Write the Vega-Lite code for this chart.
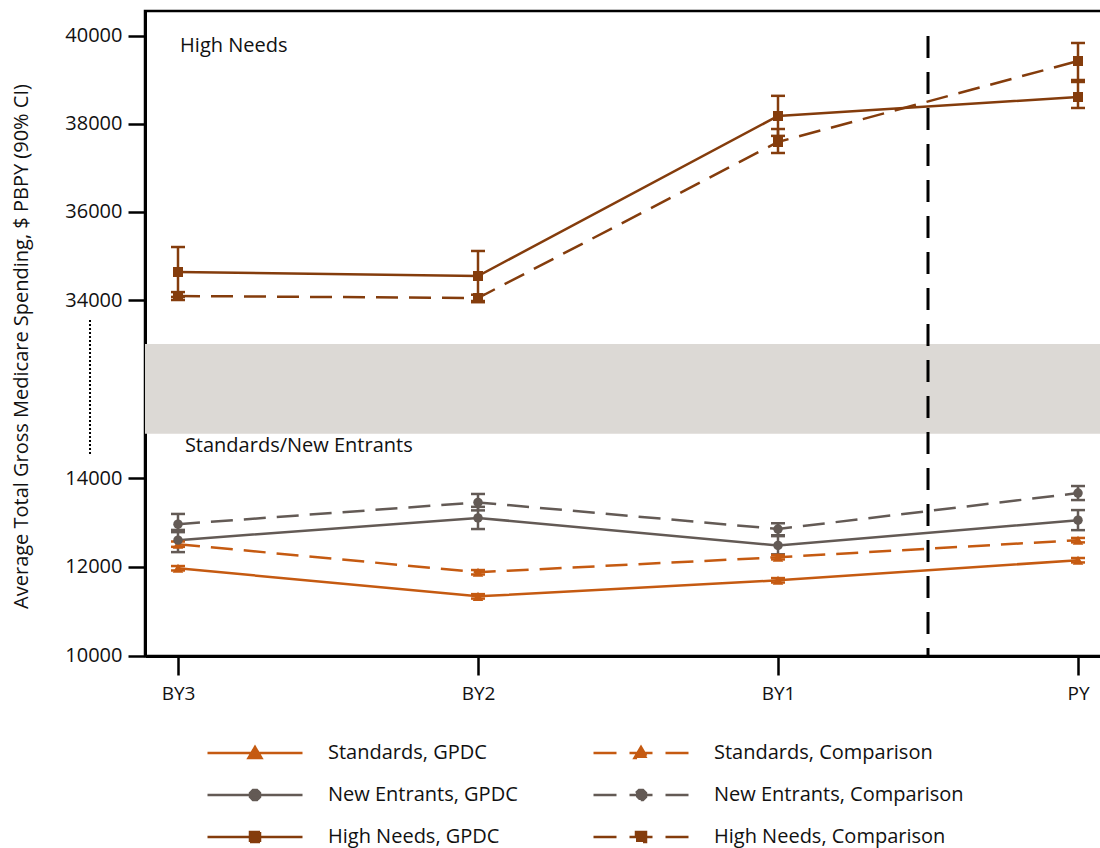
{
  "$schema": "https://vega.github.io/schema/vega-lite/v6.json",
  "autosize": {"type": "none"},
  "padding": {"left": 145, "top": 11, "right": 0, "bottom": 192},
  "width": 966,
  "height": 645,
  "background": "white",
  "config": {
    "font": "Open Sans",
    "view": {"stroke": "black", "strokeWidth": 2.5},
    "axis": {"labelColor": "#111", "titleColor": "#111", "domainColor": "black", "tickColor": "black", "grid": false},
    "legend": {"labelFont": "Open Sans", "labelFontSize": 20, "labelColor": "#111", "labelLimit": 400, "symbolStrokeWidth": 2.5, "symbolSize": 100, "symbolOpacity": 1, "padding": 0}
  },
  "datasets": {
    "spend": [
      {"series": "Standards, GPDC", "group": "Standards", "arm": "GPDC", "period": "BY3", "t": 0, "value": 11966, "lo": 11916, "hi": 12016},
      {"series": "Standards, GPDC", "group": "Standards", "arm": "GPDC", "period": "BY2", "t": 1, "value": 11333, "lo": 11283, "hi": 11383},
      {"series": "Standards, GPDC", "group": "Standards", "arm": "GPDC", "period": "BY1", "t": 2, "value": 11695, "lo": 11645, "hi": 11745},
      {"series": "Standards, GPDC", "group": "Standards", "arm": "GPDC", "period": "PY", "t": 3, "value": 12147, "lo": 12097, "hi": 12197},
      {"series": "Standards, Comparison", "group": "Standards", "arm": "Comparison", "period": "BY3", "t": 0, "value": 12509, "lo": 12449, "hi": 12569},
      {"series": "Standards, Comparison", "group": "Standards", "arm": "Comparison", "period": "BY2", "t": 1, "value": 11876, "lo": 11826, "hi": 11926},
      {"series": "Standards, Comparison", "group": "Standards", "arm": "Comparison", "period": "BY1", "t": 2, "value": 12215, "lo": 12165, "hi": 12265},
      {"series": "Standards, Comparison", "group": "Standards", "arm": "Comparison", "period": "PY", "t": 3, "value": 12599, "lo": 12549, "hi": 12649},
      {"series": "New Entrants, GPDC", "group": "New Entrants", "arm": "GPDC", "period": "BY3", "t": 0, "value": 12600, "lo": 12330, "hi": 12830},
      {"series": "New Entrants, GPDC", "group": "New Entrants", "arm": "GPDC", "period": "BY2", "t": 1, "value": 13100, "lo": 12850, "hi": 13350},
      {"series": "New Entrants, GPDC", "group": "New Entrants", "arm": "GPDC", "period": "BY1", "t": 2, "value": 12480, "lo": 12280, "hi": 12690},
      {"series": "New Entrants, GPDC", "group": "New Entrants", "arm": "GPDC", "period": "PY", "t": 3, "value": 13050, "lo": 12825, "hi": 13277},
      {"series": "New Entrants, Comparison", "group": "New Entrants", "arm": "Comparison", "period": "BY3", "t": 0, "value": 12960, "lo": 12780, "hi": 13190},
      {"series": "New Entrants, Comparison", "group": "New Entrants", "arm": "Comparison", "period": "BY2", "t": 1, "value": 13450, "lo": 13270, "hi": 13640},
      {"series": "New Entrants, Comparison", "group": "New Entrants", "arm": "Comparison", "period": "BY1", "t": 2, "value": 12850, "lo": 12710, "hi": 12980},
      {"series": "New Entrants, Comparison", "group": "New Entrants", "arm": "Comparison", "period": "PY", "t": 3, "value": 13660, "lo": 13503, "hi": 13819},
      {"series": "High Needs, GPDC", "group": "High Needs", "arm": "GPDC", "period": "BY3", "t": 0, "value": 34636, "lo": 34070, "hi": 35204},
      {"series": "High Needs, GPDC", "group": "High Needs", "arm": "GPDC", "period": "BY2", "t": 1, "value": 34545, "lo": 33977, "hi": 35114},
      {"series": "High Needs, GPDC", "group": "High Needs", "arm": "GPDC", "period": "BY1", "t": 2, "value": 38182, "lo": 37730, "hi": 38640},
      {"series": "High Needs, GPDC", "group": "High Needs", "arm": "GPDC", "period": "PY", "t": 3, "value": 38614, "lo": 38364, "hi": 38955},
      {"series": "High Needs, Comparison", "group": "High Needs", "arm": "Comparison", "period": "BY3", "t": 0, "value": 34091, "lo": 34000, "hi": 34180},
      {"series": "High Needs, Comparison", "group": "High Needs", "arm": "Comparison", "period": "BY2", "t": 1, "value": 34045, "lo": 33950, "hi": 34120},
      {"series": "High Needs, Comparison", "group": "High Needs", "arm": "Comparison", "period": "BY1", "t": 2, "value": 37591, "lo": 37341, "hi": 37886},
      {"series": "High Needs, Comparison", "group": "High Needs", "arm": "Comparison", "period": "PY", "t": 3, "value": 39432, "lo": 39000, "hi": 39841}
    ],
    "one": [{}]
  },
  "data": {"name": "spend"},
  "encoding": {
    "x": {
      "type": "quantitative",
      "scale": {"domain": [-0.11, 3.11], "nice": false, "zero": false},
      "axis": {"values": [0, 1, 2, 3], "labelExpr": "['BY3','BY2','BY1','PY'][datum.value]", "title": null, "tickSize": 19, "tickWidth": 2.5, "domainWidth": 3, "labelFontSize": 19, "labelPadding": 9}
    },
    "y": {
      "type": "quantitative",
      "scale": {"domain": [9989, 14000, 15000, 33000, 34000, 40568], "range": [645, 467, 422.75, 333, 289, 0], "nice": false, "zero": false},
      "axis": {"values": [10000, 12000, 14000, 34000, 36000, 38000, 40000], "format": "d", "title": "Average Total Gross Medicare Spending, $ PBPY (90% CI)", "titleFontSize": 20, "titleFontWeight": "normal", "titlePadding": 33, "titleY": 335, "tickSize": 17, "tickWidth": 2.5, "domainWidth": 3, "labelFontSize": 20, "labelPadding": 6}
    }
  },
  "layer": [
    {
      "data": {"name": "one"},
      "mark": {"type": "rect", "color": "#DCD9D5"},
      "encoding": {"y": {"datum": 15000, "type": "quantitative"}, "y2": {"datum": 33000}}
    },
    {
      "data": {"name": "one"},
      "mark": {"type": "rule", "color": "black", "strokeWidth": 2, "strokeDash": [2, 2]},
      "encoding": {"x": {"datum": -0.2933, "type": "quantitative"}, "y": {"datum": 33545, "type": "quantitative"}, "y2": {"datum": 14505}}
    },
    {
      "data": {"name": "one"},
      "mark": {"type": "rule", "color": "black", "strokeWidth": 3, "strokeDash": [22, 14]},
      "encoding": {"x": {"datum": 2.5, "type": "quantitative"}, "y": {"datum": 40000, "type": "quantitative"}, "y2": {"datum": 10000}}
    },
    {
      "transform": [{"filter": "datum.arm === 'GPDC'"}],
      "mark": {"type": "line", "strokeWidth": 2.5},
      "encoding": {
        "x": {"field": "t"}, "y": {"field": "value"},
        "color": {"field": "series", "type": "nominal", "legend": null,
          "scale": {"domain": ["High Needs, Comparison", "High Needs, GPDC", "New Entrants, Comparison", "New Entrants, GPDC", "Standards, Comparison", "Standards, GPDC"], "range": ["#843C0C", "#843C0C", "#635A55", "#635A55", "#C55A11", "#C55A11"]}}
      }
    },
    {
      "transform": [{"filter": "datum.arm === 'Comparison'"}],
      "mark": {"type": "line", "strokeWidth": 2.5, "strokeDash": [22, 11]},
      "encoding": {
        "x": {"field": "t"}, "y": {"field": "value"},
        "color": {"field": "series", "type": "nominal", "legend": null}
      }
    },
    {
      "mark": {"type": "rule", "strokeWidth": 2.5},
      "encoding": {
        "x": {"field": "t"}, "y": {"field": "lo"}, "y2": {"field": "hi"},
        "color": {"field": "series", "type": "nominal", "legend": null}
      }
    },
    {
      "mark": {"type": "rule", "strokeWidth": 2.5, "xOffset": -7, "x2Offset": 7},
      "encoding": {
        "x": {"field": "t"}, "x2": {"field": "t"}, "y": {"field": "lo"},
        "color": {"field": "series", "type": "nominal", "legend": null}
      }
    },
    {
      "mark": {"type": "rule", "strokeWidth": 2.5, "xOffset": -7, "x2Offset": 7},
      "encoding": {
        "x": {"field": "t"}, "x2": {"field": "t"}, "y": {"field": "hi"},
        "color": {"field": "series", "type": "nominal", "legend": null}
      }
    },
    {
      "transform": [{"filter": "datum.group === 'Standards'"}],
      "mark": {"type": "point", "shape": "triangle-up", "filled": true, "opacity": 1, "size": 110},
      "encoding": {"x": {"field": "t"}, "y": {"field": "value"}, "color": {"field": "series", "type": "nominal", "legend": null}}
    },
    {
      "transform": [{"filter": "datum.group === 'New Entrants'"}],
      "mark": {"type": "point", "shape": "circle", "filled": true, "opacity": 1, "size": 90},
      "encoding": {"x": {"field": "t"}, "y": {"field": "value"}, "color": {"field": "series", "type": "nominal", "legend": null}}
    },
    {
      "transform": [{"filter": "datum.group === 'High Needs'"}],
      "mark": {"type": "point", "shape": "square", "filled": true, "opacity": 1, "size": 100},
      "encoding": {"x": {"field": "t"}, "y": {"field": "value"}, "color": {"field": "series", "type": "nominal", "legend": null}}
    },
    {
      "data": {"name": "one"},
      "mark": {"type": "text", "text": "High Needs", "align": "left", "baseline": "middle", "fontSize": 20, "fontWeight": "normal", "color": "#111"},
      "encoding": {"x": {"datum": 0.007, "type": "quantitative"}, "y": {"datum": 39773, "type": "quantitative"}}
    },
    {
      "data": {"name": "one"},
      "mark": {"type": "text", "text": "Standards/New Entrants", "align": "left", "baseline": "middle", "fontSize": 20, "fontWeight": "normal", "color": "#111"},
      "encoding": {"x": {"datum": 0.023, "type": "quantitative"}, "y": {"datum": 14730, "type": "quantitative"}}
    },
    {
      "mark": {"type": "point", "filled": true, "opacity": 0, "strokeWidth": 2.5},
      "encoding": {
        "x": {"field": "t"}, "y": {"field": "value"},
        "fill": {"field": "series", "type": "nominal",
          "scale": {"domain": ["Standards, GPDC", "Standards, Comparison", "New Entrants, GPDC", "New Entrants, Comparison", "High Needs, GPDC", "High Needs, Comparison"], "range": ["#C55A11", "#C55A11", "#635A55", "#635A55", "#843C0C", "#843C0C"]},
          "legend": {"title": null, "orient": "none", "direction": "horizontal", "legendX": 100, "legendY": 732, "columns": 2, "columnPadding": 70, "rowPadding": 22, "labelOffset": 63, "labelLimit": 400, "symbolOpacity": 1}},
        "stroke": {"field": "series", "type": "nominal",
          "scale": {"domain": ["Standards, GPDC", "Standards, Comparison", "New Entrants, GPDC", "New Entrants, Comparison", "High Needs, GPDC", "High Needs, Comparison"], "range": ["#C55A11", "#C55A11", "#635A55", "#635A55", "#843C0C", "#843C0C"]},
          "legend": {"title": null, "orient": "none", "direction": "horizontal", "legendX": 100, "legendY": 732, "columns": 2, "columnPadding": 70, "rowPadding": 22, "labelOffset": 63, "labelLimit": 400, "symbolOpacity": 1}},
        "shape": {"field": "series", "type": "nominal",
          "scale": {"domain": ["Standards, GPDC", "Standards, Comparison", "New Entrants, GPDC", "New Entrants, Comparison", "High Needs, GPDC", "High Needs, Comparison"],
            "range": ["M -9.5 0 L 9.5 0 M -1.3 1 L 0 -1.2 L 1.3 1 Z", "M -9.5 0 L 9.5 0 M -1.3 1 L 0 -1.2 L 1.3 1 Z", "M -9.5 0 L 9.5 0 M -1 -0.4 L -0.4 -1 L 0.4 -1 L 1 -0.4 L 1 0.4 L 0.4 1 L -0.4 1 L -1 0.4 Z", "M -9.5 0 L 9.5 0 M -1 -0.4 L -0.4 -1 L 0.4 -1 L 1 -0.4 L 1 0.4 L 0.4 1 L -0.4 1 L -1 0.4 Z", "M -9.5 0 L 9.5 0 M -1 -1 L 1 -1 L 1 1 L -1 1 Z", "M -9.5 0 L 9.5 0 M -1 -1 L 1 -1 L 1 1 L -1 1 Z"]},
          "legend": {"title": null, "orient": "none", "direction": "horizontal", "legendX": 100, "legendY": 732, "columns": 2, "columnPadding": 70, "rowPadding": 22, "labelOffset": 63, "labelLimit": 400, "symbolOpacity": 1}},
        "strokeDash": {"field": "series", "type": "nominal",
          "scale": {"domain": ["Standards, GPDC", "Standards, Comparison", "New Entrants, GPDC", "New Entrants, Comparison", "High Needs, GPDC", "High Needs, Comparison"],
            "range": [[1, 0], [23, 13], [1, 0], [23, 13], [1, 0], [23, 13]]},
          "legend": {"title": null, "orient": "none", "direction": "horizontal", "legendX": 100, "legendY": 732, "columns": 2, "columnPadding": 70, "rowPadding": 22, "labelOffset": 63, "labelLimit": 400, "symbolOpacity": 1}}
      }
    }
  ]
}
